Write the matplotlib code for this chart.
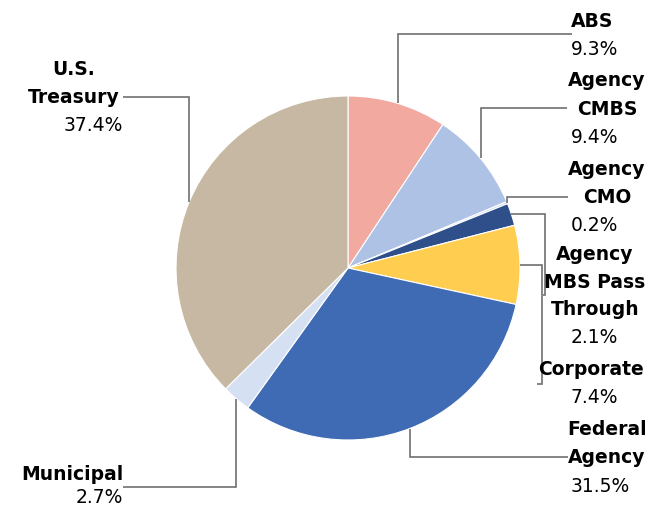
import numpy as np
import matplotlib
matplotlib.use("Agg")
import matplotlib.pyplot as plt

categories = ["ABS", "Agency CMBS", "Agency CMO", "Agency MBS Pass Through",
              "Corporate", "Federal Agency", "Municipal", "U.S. Treasury"]
values = [9.3, 9.4, 0.2, 2.1, 7.4, 31.5, 2.7, 37.4]
name_lines = [["ABS"], ["Agency", "CMBS"], ["Agency", "CMO"],
              ["Agency", "MBS Pass", "Through"], ["Corporate"],
              ["Federal", "Agency"], ["Municipal"], ["U.S.", "Treasury"]]
colors = ["#F2AAA0", "#ADC2E5", "#C9D7EE", "#2E4F8A",
          "#FFCD50", "#3F6AB4", "#D6E0F3", "#C6B8A3"]

W, H = 652, 508
CX, CY, R = 348, 268, 172

fig = plt.figure(figsize=(W / 100, H / 100), dpi=100)
ax = fig.add_axes([0, 0, 1, 1])
wedges, _ = ax.pie(values, colors=colors, startangle=90, counterclock=False,
                   radius=1, center=(0, 0),
                   wedgeprops=dict(edgecolor="white", linewidth=0.8))
ax.set_xlim((0 - CX) / R, (W - CX) / R)
ax.set_ylim((CY - H) / R, (CY - 0) / R)
ax.set_aspect("equal")
ax.axis("off")


def d(px, py):
    return (px - CX) / R, (CY - py) / R


# layout: (elbow/end points in px after the anchor, name center x, name baselines, pct x, pct baseline, pct align)
layout = [
    ([(None, 34), (572, 34)], 592, [27], 571, 55, "left"),
    ([(None, 108), (567, 108)], 607, [86, 115], 571, 143, "left"),
    ([(None, 197), (568, 197)], 607, [175, 203], 571, 231, "left"),
    ([(545, None), (545, 295), (543, 295)], 595, [260, 288, 315], 571, 343, "left"),
    ([(542, None), (542, 384), (537, 384)], 591, [375], 571, 403, "left"),
    ([(None, 457), (568, 457)], 607, [435, 463], 571, 492, "left"),
    ([(None, 487), (123, 487)], 72, [480], 123, 503, "right"),
    ([(None, 97), (123, 97)], 74, [75, 103], 123, 131, "right"),
]

line_color = "#707070"
for w, v, names, (pts, nx, nys, pxx, pyy, pal) in zip(wedges, values, name_lines, layout):
    theta = np.deg2rad((w.theta1 + w.theta2) / 2)
    ax0, ay0 = np.cos(theta), np.sin(theta)
    apx, apy = CX + ax0 * R, CY - ay0 * R
    xs, ys = [apx], [apy]
    for (px, py) in pts:
        px = apx if px is None else px
        py = apy if py is None else py
        xs.append(px)
        ys.append(py)
    dx = [(p - CX) / R for p in xs]
    dy = [(CY - p) / R for p in ys]
    ax.plot(dx, dy, color=line_color, lw=1.2, solid_joinstyle="miter",
            solid_capstyle="butt", zorder=1)
    for nm, by in zip(names, nys):
        tx, ty = d(nx, by)
        ax.text(tx, ty, nm, ha="center", va="baseline", fontsize=13.5,
                fontweight="bold", family="DejaVu Sans", color="black")
    tx, ty = d(pxx, pyy)
    ax.text(tx, ty, f"{v:.1f}%", ha=pal, va="baseline", fontsize=13.5,
            family="DejaVu Sans", color="black")

fig.savefig("out.png", dpi=100, facecolor="white")
